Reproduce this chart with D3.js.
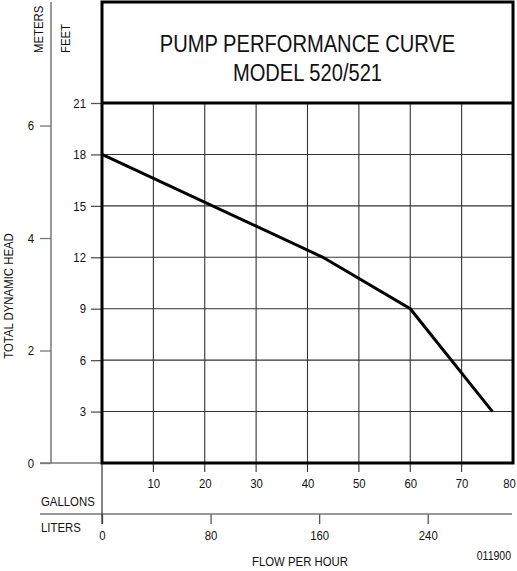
<!DOCTYPE html>
<html>
<head>
<meta charset="utf-8">
<script src="https://cdn.jsdelivr.net/npm/d3@7"></script>
<style>
  body { margin: 0; background: #fff; }
  text { font-family: "Liberation Sans", Arial, sans-serif; fill: #111; }
</style>
</head>
<body>
<svg id="chart" width="517" height="571"></svg>
<script>
// curve: gallons per hour vs total head in feet
const flowGallons = [0, 43, 60, 76];
const headFeet = [18, 12, 9, 3];

const feetTicks = [3, 6, 9, 12, 15, 18, 21];
const meterTicks = [0, 2, 4, 6];
const gallonTicks = [10, 20, 30, 40, 50, 60, 70, 80];
const literTicks = [0, 80, 160, 240];

const titleLines = ["PUMP PERFORMANCE CURVE", "MODEL 520/521"];

const svg = d3.select("#chart");

const x = d3.scaleLinear().domain([0, 80]).range([102, 513]);
const y = d3.scaleLinear().domain([0, 21]).range([463, 103]);
const yM = d3.scaleLinear().domain([0, 21 * 0.3048]).range([463, 103]);
const xL = d3.scaleLinear().domain([0, 80 * 3.78541]).range([102, 513]);

// grid
const grid = svg.append("g").attr("stroke", "#333").attr("stroke-width", 1.1);
grid.selectAll("line.v")
  .data(gallonTicks.slice(0, -1))
  .join("line")
    .attr("x1", d => x(d)).attr("x2", d => x(d))
    .attr("y1", y(21)).attr("y2", y(0) + 9);
grid.selectAll("line.h")
  .data(feetTicks.slice(0, -1))
  .join("line")
    .attr("class", "h")
    .attr("x1", x(0)).attr("x2", x(80))
    .attr("y1", d => y(d)).attr("y2", d => y(d));

// feet axis
const feetAxis = svg.append("g")
    .attr("transform", `translate(${x(0)},0)`)
    .call(d3.axisLeft(y).tickValues(feetTicks).tickSize(11).tickPadding(5));
feetAxis.select(".domain").remove();

// meters axis
const meterAxis = svg.append("g")
    .attr("transform", "translate(51,0)")
    .call(d3.axisLeft(yM).tickValues(meterTicks).tickFormat(d3.format("d"))
      .tickSize(11).tickPadding(6));
meterAxis.select(".domain").remove();
svg.append("line")
    .attr("x1", 51).attr("x2", 51).attr("y1", 2).attr("y2", y(0))
    .attr("stroke", "#777").attr("stroke-width", 1.5);
svg.append("line")
    .attr("x1", 40).attr("x2", x(0)).attr("y1", y(0)).attr("y2", y(0))
    .attr("stroke", "#777").attr("stroke-width", 1.5);

// gallons axis
const galAxis = svg.append("g")
    .attr("transform", `translate(0,${y(0)})`)
    .call(d3.axisBottom(x).tickValues(gallonTicks).tickSize(9).tickPadding(7));
galAxis.select(".domain").remove();
galAxis.selectAll(".tick line").remove();
// last label sits against the page edge
galAxis.selectAll(".tick text").filter(d => d === 80).attr("dx", -4);

// liters axis
const litAxis = svg.append("g")
    .attr("transform", "translate(0,514)")
    .call(d3.axisBottom(xL).tickValues(literTicks).tickSize(10).tickPadding(7));
litAxis.select(".domain").remove();
svg.append("line")
    .attr("x1", 40).attr("x2", 512).attr("y1", 514).attr("y2", 514)
    .attr("stroke", "#777").attr("stroke-width", 1.5);
svg.append("line")
    .attr("x1", x(0)).attr("x2", x(0)).attr("y1", y(0)).attr("y2", 524)
    .attr("stroke", "#333").attr("stroke-width", 1.2);

svg.selectAll(".tick line").attr("stroke", "#555").attr("stroke-width", 1.3);
svg.selectAll(".tick text").style("font-size", "13px").attr("fill", "#111");
meterAxis.selectAll(".tick line").attr("stroke", "#777");

// frames
svg.append("rect")
    .attr("x", x(0)).attr("y", 2)
    .attr("width", x(80) - x(0)).attr("height", y(0) - 2)
    .attr("fill", "none").attr("stroke", "#000").attr("stroke-width", 3);
svg.append("line")
    .attr("x1", x(0)).attr("x2", x(80)).attr("y1", y(21)).attr("y2", y(21))
    .attr("stroke", "#000").attr("stroke-width", 3);

// curve
const pts = flowGallons.map((g, i) => [g, headFeet[i]]);
svg.append("path")
    .datum(pts)
    .attr("fill", "none")
    .attr("stroke", "#000")
    .attr("stroke-width", 3)
    .attr("d", d3.line().x(d => x(d[0])).y(d => y(d[1])));

// title
svg.selectAll("text.title")
  .data(titleLines)
  .join("text")
    .attr("class", "title")
    .attr("x", (x(0) + x(80)) / 2)
    .attr("y", (d, i) => 52 + i * 29)
    .attr("text-anchor", "middle")
    .style("font-size", "23px")
    .text(d => d);

// labels
const lab = (txt, px, py, opts = {}) => svg.append("text")
    .attr("x", px).attr("y", py)
    .attr("text-anchor", opts.anchor || "start")
    .attr("transform", opts.rotate ? `rotate(-90,${px},${py})` : null)
    .style("font-size", (opts.size || 13) + "px")
    .text(txt);

lab("METERS", 43, 53, { rotate: true });
lab("FEET", 70, 53, { rotate: true });
lab("TOTAL DYNAMIC HEAD", 13, 296, { rotate: true, anchor: "middle" });
lab("GALLONS", 41, 506);
lab("LITERS", 41, 532);
lab("FLOW PER HOUR", 300, 566, { anchor: "middle" });
lab("011900", 511, 560, { anchor: "end", size: 12 });

// the original lettering is a condensed sans, squeeze the glyphs a bit
svg.selectAll("text").each(function() {
  const w = this.getComputedTextLength();
  d3.select(this).attr("textLength", w * 0.875).attr("lengthAdjust", "spacingAndGlyphs");
});
</script>
</body>
</html>
